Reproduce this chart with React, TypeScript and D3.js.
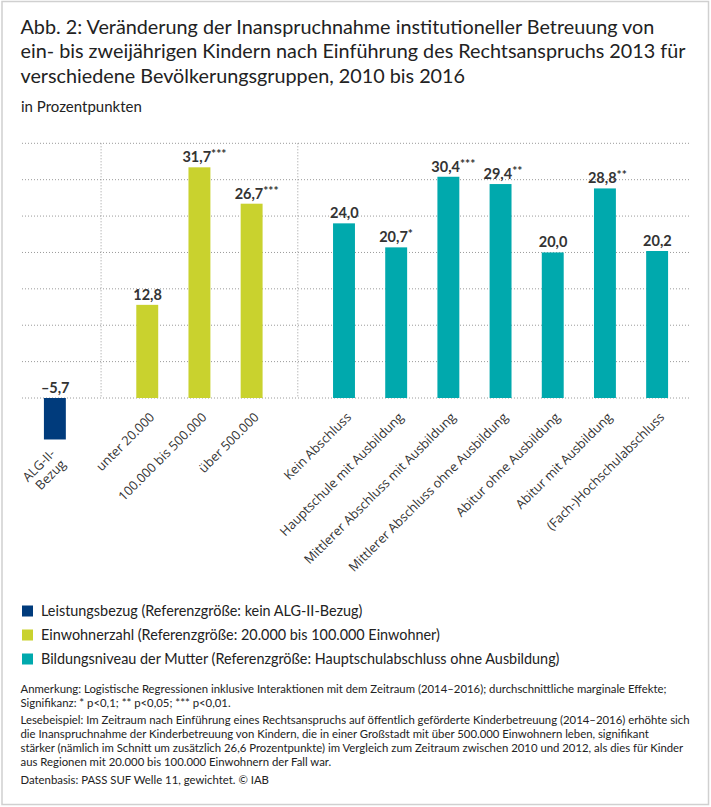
import React from 'react';
import * as d3 from 'd3';

// Kategorien, Werte und Signifikanzsterne
const categories = [
    ['ALG-II-', 'Bezug'],
    ['unter 20.000'],
    ['100.000 bis 500.000'],
    ['über 500.000'],
    ['Kein Abschluss'],
    ['Hauptschule mit Ausbildung'],
    ['Mittlerer Abschluss mit Ausbildung'],
    ['Mittlerer Abschluss ohne Ausbildung'],
    ['Abitur ohne Ausbildung'],
    ['Abitur mit Ausbildung'],
    ['(Fach-)Hochschulabschluss'],
];
const values = [-5.7, 12.8, 31.7, 26.7, 24.0, 20.7, 30.4, 29.4, 20.0, 28.8, 20.2];
const stars = ['', '', '***', '***', '', '*', '***', '**', '', '**', ''];
const groupOf = [0, 1, 1, 1, 2, 2, 2, 2, 2, 2, 2];

const groupLabels = [
    'Leistungsbezug (Referenzgröße: kein ALG-II-Bezug)',
    'Einwohnerzahl (Referenzgröße: 20.000 bis 100.000 Einwohner)',
    'Bildungsniveau der Mutter (Referenzgröße: Hauptschulabschluss ohne Ausbildung)',
];
const groupColors = ['#003b7c', '#c9d22e', '#00a9ad'];

const gridValues = [0, 5, 10, 15, 20, 25, 30, 35];

const titleLines = [
    'Abb. 2: Veränderung der Inanspruchnahme institutioneller Betreuung von',
    'ein- bis zweijährigen Kindern nach Einführung des Rechtsanspruchs 2013 für',
    'verschiedene Bevölkerungsgruppen, 2010 bis 2016',
];
const subtitle = 'in Prozentpunkten';

const noteLines = [
    'Anmerkung: Logistische Regressionen inklusive Interaktionen mit dem Zeitraum (2014–2016); durchschnittliche marginale Effekte;',
    'Signifikanz: * p<0,1; ** p<0,05; *** p<0,01.',
];
const exampleLines = [
    'Lesebeispiel: Im Zeitraum nach Einführung eines Rechtsanspruchs auf öffentlich geförderte Kinderbetreuung (2014–2016) erhöhte sich',
    'die Inanspruchnahme der Kinderbetreuung von Kindern, die in einer Großstadt mit über 500.000 Einwohnern leben, signifikant',
    'stärker (nämlich im Schnitt um zusätzlich 26,6 Prozentpunkte) im Vergleich zum Zeitraum zwischen 2010 und 2012, als dies für Kinder',
    'aus Regionen mit 20.000 bis 100.000 Einwohnern der Fall war.',
];
const sourceLine = 'Datenbasis: PASS SUF Welle 11, gewichtet. © IAB';

const W = 711;
const H = 807;
const FONT = 'Lato, "Noto Sans", sans-serif';
const AXIS_FONT = '"Open Sans", sans-serif';
const TEXT = '#222';

const de = d3.formatLocale({ decimal: ',', thousands: '.', grouping: [3], currency: ['', ' €'], minus: '–' });
const fmt = de.format('.1f');

// Gruppen werden durch eine zusätzliche Lücke getrennt
const GAP = 0.77;
const slot = (i: number) => i + groupOf[i] * GAP;
const lastSlot = slot(values.length - 1);

const App: React.FC = () => {
    const x = d3.scaleLinear().domain([-0.63, lastSlot + 0.63]).range([22, 690]);
    const y = d3.scaleLinear().domain([0, 35]).range([398, 143.3]);
    const step = x(1) - x(0);
    const barW = step * 0.42;
    const y0 = y(0);

    // Trennlinien zwischen den Gruppen
    const separators = d3.range(1, values.length)
        .filter(i => groupOf[i] !== groupOf[i - 1])
        .map(i => (x(slot(i - 1)) + x(slot(i))) / 2);

    return (
        <div style={{ position: 'absolute', left: 0, top: 0 }}>
            <svg width={W} height={H} style={{ display: 'block' }} fontFamily={FONT}>
                <rect x={2} y={1.5} width={W - 4.5} height={H - 4} fill="#fff" stroke="#d0d0d0" strokeWidth={1.5} />

                {titleLines.map((t, i) => (
                    <text key={t} x={20.5} y={34 + i * 24.3} fontSize={19.8} fill={TEXT}>{t}</text>
                ))}
                <text x={21} y={111.5} fontSize={15} fill={TEXT}>{subtitle}</text>

                {/* Gitterlinien */}
                {gridValues.map(v => (
                    <line key={v} x1={22} x2={690} y1={y(v)} y2={y(v)}
                        stroke="#9a9a9a" strokeWidth={1} strokeDasharray="1,2" />
                ))}
                {separators.map((sx, i) => (
                    <line key={i} x1={sx} x2={sx} y1={y(35)} y2={y0}
                        stroke="#9a9a9a" strokeWidth={1} strokeDasharray="1,2" />
                ))}

                {/* Balken */}
                {values.map((v, i) => {
                    const cx = x(slot(i));
                    return (
                        <rect key={i} x={cx - barW / 2} y={Math.min(y(v), y0)} width={barW}
                            height={Math.abs(y(v) - y0)} fill={groupColors[groupOf[i]]} />
                    );
                })}

                {/* Wertbeschriftungen */}
                {values.map((v, i) => {
                    const cx = x(slot(i));
                    const shift = stars[i] ? 3 : 0;
                    return (
                        <text key={i} x={cx - 14 - shift} y={Math.min(y(v), y0) - 5}
                            fontSize={14.5} fontWeight={700} fill="#333">
                            {fmt(v)}
                            {stars[i] && <tspan fontSize={12} dy={-4}>{stars[i]}</tspan>}
                        </text>
                    );
                })}

                {/* Kategorienbeschriftungen */}
                {categories.map((lines, i) => {
                    const cx = x(slot(i));
                    const bottom = Math.max(y(values[i]), y0);
                    const multi = lines.length > 1;
                    const ax = multi ? cx + 1 : cx + 8;
                    const ay = multi ? bottom + 15 : bottom + 20;
                    return (
                        <text key={i} transform={`translate(${ax},${ay}) rotate(-45)`}
                            textAnchor="end" fontFamily={AXIS_FONT} fontSize={12.8} fill="#333">
                            {lines.map((l, j) => (
                                <tspan key={j} x={0} dy={j === 0 ? 0 : 15}>{l}</tspan>
                            ))}
                        </text>
                    );
                })}

                {/* Legende */}
                {groupLabels.map((g, i) => (
                    <g key={g} transform={`translate(22,${616 + i * 24})`}>
                        <rect x={0} y={-10.5} width={11} height={11} fill={groupColors[i]} />
                        <text x={19} y={0} fontSize={14.4} fill={TEXT}>{g}</text>
                    </g>
                ))}

                {/* Anmerkungen */}
                <g fontSize={11.35} fill={TEXT}>
                    {noteLines.map((t, i) => (
                        <text key={t} x={20.5} y={692.5 + i * 14}>{t}</text>
                    ))}
                    {exampleLines.map((t, i) => (
                        <text key={t} x={20.5} y={723.5 + i * 14.3}>{t}</text>
                    ))}
                    <text x={20.5} y={784}>{sourceLine}</text>
                </g>
            </svg>
        </div>
    );
};

export default App;
